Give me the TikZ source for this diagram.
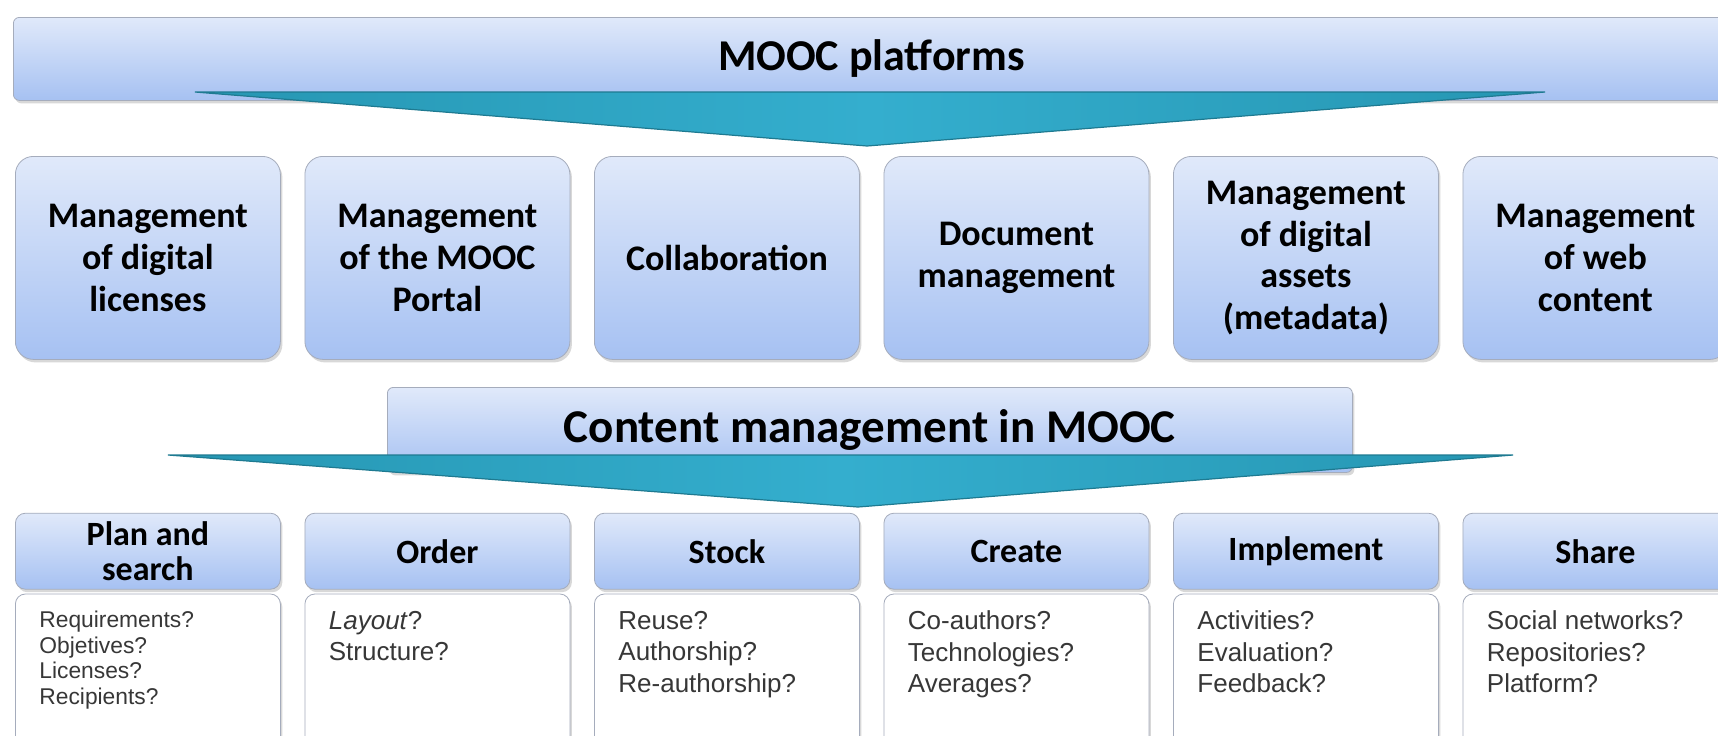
\documentclass[tikz,border=0pt]{standalone}
\usepackage{fontspec}
\setmainfont{Carlito}
\newfontfamily\qfont{Liberation Sans}
\usetikzlibrary{positioning, shadows}

\definecolor{boxtop}{RGB}{224,233,250}
\definecolor{boxbot}{RGB}{166,193,242}
\definecolor{boxline}{RGB}{165,172,188}
\definecolor{tealdark}{RGB}{30,122,145}
\definecolor{tealmid}{RGB}{38,150,178}
\definecolor{teallight}{RGB}{52,174,206}
\definecolor{qgray}{RGB}{55,55,55}

\begin{document}
\begin{tikzpicture}[
    x=1pt, y=1pt,
    node distance=11.85pt,
    soft/.style={drop shadow={opacity=0.3, shadow xshift=1pt, shadow yshift=-1.5pt}},
    bar/.style={rectangle, rounded corners=3pt, draw=boxline, top color=boxtop, bottom color=boxbot, soft, font=\bfseries\fontsize{22}{26}\selectfont},
    tool/.style={rectangle, rounded corners=9pt, draw=boxline, top color=boxtop, bottom color=boxbot, soft, minimum width=132.5pt, minimum height=101.5pt, align=center, inner sep=2pt, font=\bfseries\fontsize{18}{20.8}\selectfont},
    phase/.style={rectangle, rounded corners=5pt, draw=boxline, top color=boxtop, bottom color=boxbot, soft, minimum width=132.5pt, minimum height=38pt, align=center, inner sep=1pt, font=\bfseries\fontsize{17}{17.5}\selectfont},
    qbox/.style={rectangle, rounded corners=5pt, draw=boxline, fill=white, soft, inner xsep=12pt, inner ysep=8.5pt, text=qgray, font=\qfont\fontsize{13}{15.75}\selectfont},
    wedge/.style={draw=tealdark, line width=0.6pt, left color=tealmid, right color=tealmid, middle color=teallight}
]
\useasboundingbox (0,0) rectangle (859,-367.5);
\clip (0,0) rectangle (859,-367.5);
\fill[white] (0,0) rectangle (859,-367.5);

% Platforms
\node[bar, minimum width=858pt, minimum height=41.5pt, anchor=north west] (plat) at (6.5,-8.5) {MOOC platforms};
\path[wedge] (97.5,-46) -- (772.5,-46) -- (433.5,-73) -- cycle;

% Tools
\node[tool, anchor=north west] (lic) at (7.5,-78) {Management\\of digital\\licenses};
\node[tool, right=of lic] (portal) {Management\\of the MOOC\\Portal};
\node[tool, right=of portal] (collab) {Collaboration};
\node[tool, right=of collab] (docs) {Document\\management};
\node[tool, right=of docs] (assets) {Management\\of digital\\assets\\(metadata)};
\node[tool, right=of assets] (web) {Management\\of web\\content};

% Content management
\node[bar, minimum width=482.5pt, minimum height=42.5pt, anchor=north west, font=\bfseries\fontsize{23.5}{28}\selectfont] (cms) at (193.5,-193.5) {Content management in MOOC};
\path[wedge] (84,-227.5) -- (756.5,-227.5) -- (429,-253.5) -- cycle;

% Phases
\node[phase, below=76.5pt of lic] (plan) {Plan and\\search};
\node[phase, right=of plan] (order) {Order};
\node[phase, right=of order] (stock) {Stock};
\node[phase, right=of stock] (create) {Create};
\node[phase, right=of create] (impl) {Implement};
\node[phase, right=of impl] (share) {Share};

% Questions
\node[qbox, below=2pt of plan] (planq) {\parbox[t][70pt][t]{108.5pt}{\fontsize{11.4}{12.85}\selectfont Requirements?\\Objetives?\\Licenses?\\Recipients?}};
\node[qbox, below=2pt of order] (orderq) {\parbox[t][70pt][t]{108.5pt}{\textit{Layout}?\\Structure?}};
\node[qbox, below=2pt of stock] (stockq) {\parbox[t][70pt][t]{108.5pt}{Reuse?\\Authorship?\\Re-authorship?}};
\node[qbox, below=2pt of create] (createq) {\parbox[t][70pt][t]{108.5pt}{Co-authors?\\Technologies?\\Averages?}};
\node[qbox, below=2pt of impl] (implq) {\parbox[t][70pt][t]{108.5pt}{Activities?\\Evaluation?\\Feedback?}};
\node[qbox, below=2pt of share] (shareq) {\parbox[t][70pt][t]{108.5pt}{Social networks?\\Repositories?\\Platform?}};

\end{tikzpicture}
\end{document}
